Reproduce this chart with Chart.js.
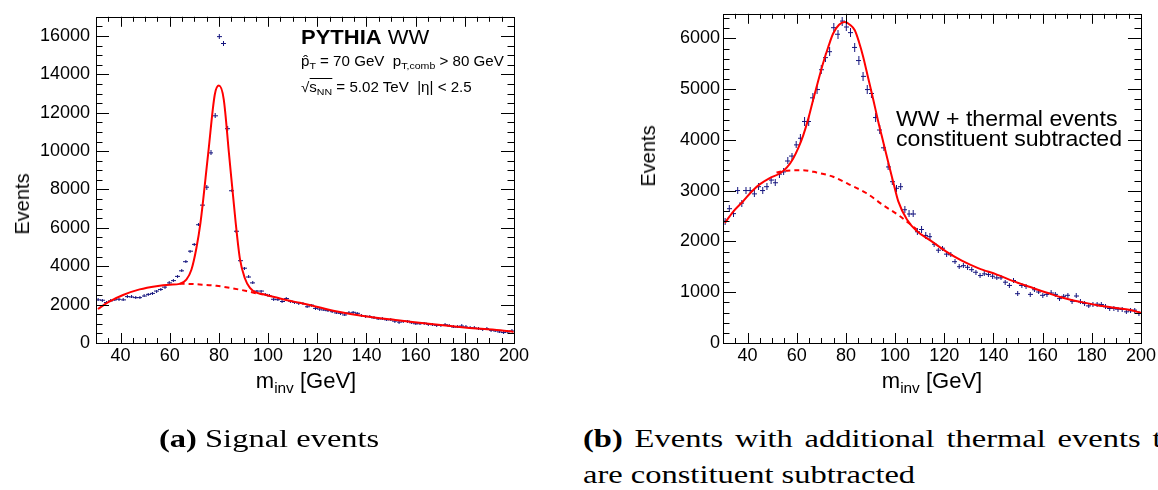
<!DOCTYPE html>
<html>
<head>
<meta charset="utf-8">
<script src="https://cdn.jsdelivr.net/npm/chart.js@4.4.1/dist/chart.umd.min.js"></script>
<style>
  body { margin: 0; width: 1158px; height: 490px; background: #fff; position: relative; overflow: hidden;
         font-family: "Liberation Sans", Arial, sans-serif; color: #000; }
  canvas { position: absolute; top: 0; }
  .t { position: absolute; white-space: nowrap; line-height: 1; transform-origin: 0 0; }
  .s { font-size: 70%; position: relative; top: 0.35em; }
  .cap { font-family: "Liberation Serif", "Times New Roman", serif; font-size: 26px; transform: scaleX(1.25); }
  .ytitle { position: absolute; white-space: nowrap; line-height: 1; font-size: 20px;
            transform: translate(-50%, -50%) rotate(-90deg); }
  .xtitle { position: absolute; white-space: nowrap; line-height: 1; font-size: 22px; transform: translateX(-50%); }
</style>
</head>
<body>
<canvas id="signal" width="540" height="400" style="left:0"></canvas>
<canvas id="thermal" width="558" height="400" style="left:600px"></canvas>

<div class="ytitle" style="left:22px; top:204px">Events</div>
<div class="ytitle" style="left:648px; top:156px">Events</div>
<div class="xtitle" style="left:306px; top:370px">m<span class="s">inv</span> [GeV]</div>
<div class="xtitle" style="left:932px; top:370px">m<span class="s">inv</span> [GeV]</div>

<div class="t" style="left:301px; top:27px; font-size:20px; transform:scaleX(1.1)"><b>PYTHIA</b> WW</div>
<div class="t" style="left:301px; top:54px; font-size:14px; transform:scaleX(1.08)">p&#770;<span class="s">T</span> = 70 GeV&nbsp; p<span class="s">T,comb</span> &gt; 80 GeV</div>
<div class="t" style="left:301px; top:80px; font-size:14px; transform:scaleX(1.08)">&radic;<span style="border-top:1px solid #000">s<span class="s">NN</span></span> = 5.02 TeV&nbsp; |&eta;| &lt; 2.5</div>

<div class="t" style="left:896px; top:108px; font-size:22px; transform:scaleX(1.05)">WW + thermal events</div>
<div class="t" style="left:896px; top:128px; font-size:22px; transform:scaleX(1.05)">constituent subtracted</div>

<div class="t cap" style="left:159px; top:426px"><b>(a)</b> Signal events</div>
<div class="t cap" style="left:583px; top:426px; word-spacing:3px"><b>(b)</b> Events with additional thermal events that</div>
<div class="t cap" style="left:583px; top:462px">are constituent subtracted</div>

<script>
// tick labels
const massTicks = [40, 60, 80, 100, 120, 140, 160, 180, 200];
const signalTicks = [0, 2000, 4000, 6000, 8000, 10000, 12000, 14000, 16000];
const thermalTicks = [0, 1000, 2000, 3000, 4000, 5000, 6000];

// histogram contents, 100 bins of 1.7 GeV from 30 to 200 GeV
const signalEvents = [
  2248, 2231, 2112, 2197, 2248, 2282, 2248, 2418, 2401, 2367,
  2367, 2452, 2537, 2589, 2708, 2793, 2912, 3134, 3253, 3474,
  3764, 4240, 4785, 5143, 6165, 7187, 8123, 9910, 11840, 15970,
  15610, 11170, 7936, 5824, 4292, 3900, 3440, 3134, 2708, 2708,
  2537, 2452, 2282, 2260, 2163, 2316, 2180, 2120, 2080, 2060,
  1890, 1975, 1805, 1771, 1720, 1686, 1635, 1567, 1550, 1465,
  1567, 1600, 1550, 1430, 1397, 1380, 1311, 1260, 1260, 1209,
  1209, 1141, 1090, 1141, 1141, 1056, 1005, 1005, 1039, 971,
  954, 920, 920, 954, 886, 834, 834, 886, 834, 800,
  783, 749, 715, 749, 664, 630, 579, 545, 579, 630
];
const thermalEvents = [
  2400, 2646, 2549, 3003, 2756, 3003, 3003, 2938, 3080, 3003,
  3080, 3210, 3158, 3327, 3372, 3586, 3683, 3904, 4034, 4364,
  4364, 4831, 4993, 5383, 5622, 5739, 6212, 6083, 6342, 6226,
  6115, 5823, 5564, 5253, 4993, 4916, 4442, 4196, 3846, 3469,
  3178, 3048, 3080, 2626, 2542, 2542, 2192, 2237, 2120, 2095,
  1946, 1829, 1868, 1751, 1738, 1602, 1504, 1524, 1491, 1445,
  1394, 1329, 1362, 1349, 1316, 1284, 1284, 1199, 1135, 1232,
  972, 1135, 1115, 959, 1050, 1005, 940, 959, 985, 959,
  875, 920, 940, 822, 927, 810, 778, 732, 758, 765,
  758, 713, 680, 680, 667, 661, 615, 635, 648, 583
];

// fit curves
const signalFitMass = [30.8, 35, 41, 47.75, 54.5, 60, 64, 66.75, 68.8, 70.8, 72.5, 75.6, 78.3, 80.0,
  81.95, 84.1, 86.8, 88.5, 90.5, 92.6, 95.3, 98, 103.4, 108.8, 112.9, 126.5, 140.1, 153.6, 167.2, 180.8, 194.4, 199.8];
const signalFitEvents = [1771, 2130, 2503, 2793, 2963, 3040, 3082, 3304, 3815, 4922, 6273, 9840, 12940, 13414,
  12700, 9850, 6280, 4411, 3389, 2878, 2623, 2537, 2367, 2197, 2095, 1686, 1380, 1175, 971, 800, 664, 579];
const signalBkgMass = [64, 66.75, 72.2, 79, 85.8, 91.2, 95.3, 98];
const signalBkgEvents = [3082, 3082, 3048, 2980, 2844, 2708, 2589, 2537];

const thermalFitMass = [30.8, 34, 38.1, 42, 44.9, 49, 53.1, 56, 58.5, 60.6, 62.6, 64.7, 66.7, 68.7, 70.7, 72.8,
  74.8, 77.2, 79.6, 81.6, 83.6, 85.3, 87.0, 89.0, 91.1, 93.1, 95.2, 97.2, 99.2, 101.3, 104.8, 108.8, 114.3,
  120.5, 127.1, 134, 141.4, 148, 155, 161.8, 168.6, 175.4, 182.2, 189, 195.7, 200];
const thermalFitEvents = [2366, 2580, 2788, 3000, 3125, 3250, 3339, 3460, 3632, 3840, 4086, 4420, 4798, 5160,
  5512, 5830, 6096, 6270, 6323, 6270, 6160, 5930, 5641, 5230, 4798, 4370, 3955, 3560, 3177, 2789, 2432, 2205,
  2023, 1810, 1621, 1470, 1348, 1220, 1102, 990, 887, 810, 745, 695, 648, 595];
const thermalBkgMass = [51.75, 56, 62.6, 68, 74.8, 81, 88.4, 95, 102, 108.8];
const thermalBkgEvents = [3359, 3395, 3404, 3360, 3274, 3130, 2950, 2720, 2496, 2236];

const FONT = "'Liberation Sans', Arial, sans-serif";

function binCenter(i) {
  return 30.85 + 1.7 * i;
}

function cross(w, h) {
  var c = document.createElement('canvas');
  c.width = w;
  c.height = h;
  var g = c.getContext('2d');
  g.fillStyle = '#14147e';
  g.fillRect(0, Math.floor(h / 2), w, 1);
  g.fillRect(Math.floor(w / 2), 0, 1, h);
  return c;
}

// ROOT style frame with ticks on all four sides
var rootFrame = {
  id: 'rootFrame',
  afterDraw: function (chart, args, o) {
    var ctx = chart.ctx, a = chart.chartArea;
    var x = chart.scales.x, y = chart.scales.y;
    ctx.save();
    ctx.strokeStyle = '#000';
    ctx.lineWidth = 1;
    ctx.beginPath();
    for (var v = 30 + o.xMinor; v < 200; v += o.xMinor) {
      var px = Math.round(x.getPixelForValue(v)) + 0.5;
      var len = v % o.xMajor === 0 ? 10 : 5;
      ctx.moveTo(px, a.bottom); ctx.lineTo(px, a.bottom - len);
      ctx.moveTo(px, a.top); ctx.lineTo(px, a.top + len);
    }
    for (var w = o.yMinor; w < y.max; w += o.yMinor) {
      var py = Math.round(y.getPixelForValue(w)) + 0.5;
      var l = w % o.yMajor === 0 ? 13 : 6.5;
      ctx.moveTo(a.left, py); ctx.lineTo(a.left + l, py);
      ctx.moveTo(a.right, py); ctx.lineTo(a.right - l, py);
    }
    ctx.stroke();
    ctx.strokeRect(Math.round(a.left) + 0.5, Math.round(a.top) + 0.5,
      Math.round(a.right - a.left), Math.round(a.bottom - a.top));
    ctx.restore();
  }
};

function plain(v) {
  return String(v);
}

function makeChart(id, events, fitM, fitE, bkgM, bkgE, yTicks, yMax, frame, yWidth, rightPad, labelPad, styleFor) {
  return new Chart(document.getElementById(id), {
    type: 'scatter',
    data: {
      datasets: [
        {
          type: 'line',
          data: fitM.map(function (m, i) { return { x: m, y: fitE[i] }; }),
          borderColor: '#ff0000',
          borderWidth: 2,
          pointRadius: 0,
          cubicInterpolationMode: 'monotone',
          fill: false
        },
        {
          type: 'line',
          data: bkgM.map(function (m, i) { return { x: m, y: bkgE[i] }; }),
          borderColor: '#ff0000',
          borderWidth: 2,
          borderDash: [5, 4],
          pointRadius: 0,
          cubicInterpolationMode: 'monotone',
          fill: false
        },
        {
          data: events.map(function (v, i) { return { x: binCenter(i), y: v }; }),
          pointStyle: function (c) { return styleFor(c.raw ? c.raw.y : 0); },
          pointRadius: 3
        }
      ]
    },
    options: {
      responsive: false,
      animation: false,
      events: [],
      layout: { padding: { top: 10, right: rightPad, left: 0, bottom: 0 } },
      plugins: { legend: { display: false }, tooltip: { enabled: false }, rootFrame: frame },
      scales: {
        x: {
          type: 'linear',
          min: 30,
          max: 200,
          grid: { display: false, drawTicks: false },
          border: { display: false },
          ticks: { color: '#000', font: { family: FONT, size: 18 }, padding: 2, maxRotation: 0, autoSkip: false, callback: plain },
          afterBuildTicks: function (s) { s.ticks = massTicks.map(function (v) { return { value: v }; }); },
          afterFit: function (s) { s.height = 57; }
        },
        y: {
          min: 0,
          max: yMax,
          grid: { display: false, drawTicks: false },
          border: { display: false },
          ticks: { color: '#000', font: { family: FONT, size: 18 }, padding: labelPad, callback: plain },
          afterBuildTicks: function (s) { s.ticks = yTicks.map(function (v) { return { value: v }; }); },
          afterFit: function (s) { s.width = yWidth; }
        }
      }
    },
    plugins: [rootFrame]
  });
}

var sigBig = cross(5, 5), sigSmall = cross(5, 3);
var thBig = cross(5, 9), thMid = cross(5, 7), thSmall = cross(5, 5);

makeChart('signal', signalEvents, signalFitMass, signalFitEvents, signalBkgMass, signalBkgEvents,
  signalTicks, 17000, { xMajor: 20, xMinor: 5, yMajor: 2000, yMinor: 500 }, 96, 26, 6,
  function (v) { return v > 8000 ? sigBig : sigSmall; });

makeChart('thermal', thermalEvents, thermalFitMass, thermalFitEvents, thermalBkgMass, thermalBkgEvents,
  thermalTicks, 6485, { xMajor: 20, xMinor: 5, yMajor: 1000, yMinor: 200 }, 123, 17, 3,
  function (v) { return v > 4000 ? thBig : (v > 2000 ? thMid : thSmall); });
</script>
</body>
</html>
